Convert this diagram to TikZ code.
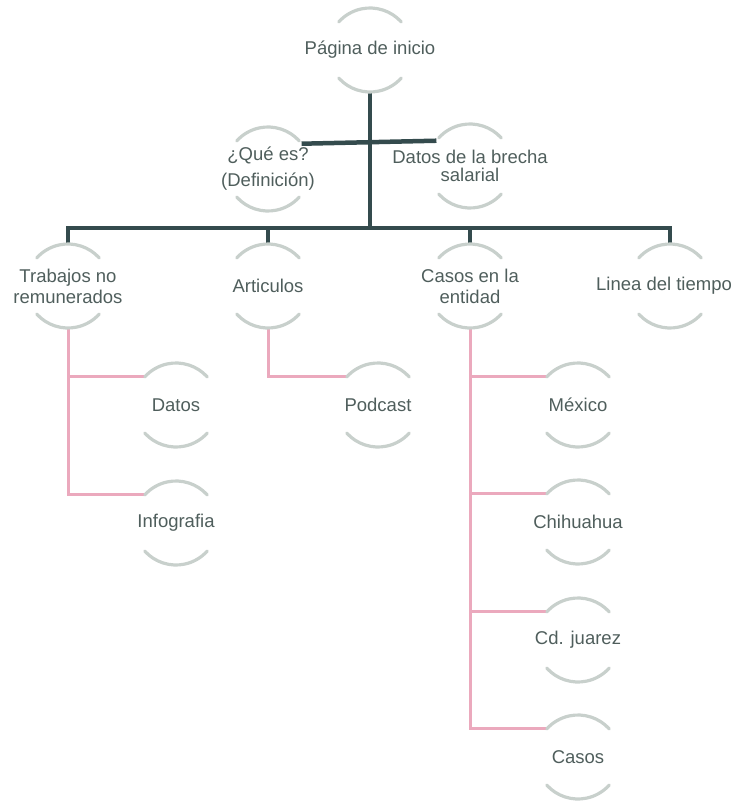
\documentclass[tikz,border=0pt]{standalone}
\usepackage{fontspec}
\setmainfont{Liberation Sans}
\definecolor{txt}{HTML}{4F5E5C}
\definecolor{arcc}{HTML}{C8D0CC}
\definecolor{dark}{HTML}{344B4D}
\definecolor{pinkc}{HTML}{EBA9BD}
\newcommand\nodearcs[1]{%
  \draw[arcline] ([shift={(42:42)}]#1) arc (42:138:42);
  \draw[arcline] ([shift={(222:42)}]#1) arc (222:318:42);}
\begin{document}
\begin{tikzpicture}[x=1pt,y=1pt,
  lbl/.style={text=txt, font=\fontsize{18.5}{21}\selectfont, align=center, inner sep=0pt},
  arcline/.style={draw=arcc, line width=3.2pt, line cap=round},
  mainline/.style={draw=dark, line width=4.5pt},
  subline/.style={draw=pinkc, line width=3pt}]
\useasboundingbox (0,0) rectangle (743,-805);

% nodes
\node[lbl] (p) at (370,-50) {Página de inicio};
\node[lbl, font=\fontsize{18.5}{26}\selectfont] (q) at (268,-169) {¿Qué es?\\(Definición)};
\node[lbl, font=\fontsize{18.5}{18}\selectfont] (d) at (470,-166) {Datos de la brecha\\salarial};
\node[lbl] (tr) at (68,-286) {Trabajos no\\remunerados};
\node[lbl] (ar) at (268,-286) {Articulos};
\node[lbl] (ca) at (470,-286) {Casos en la\\entidad};
\node[lbl] (li) at (664,-286) {Linea del tiempo};
\coordinate (lic) at (670,-286);
\node[lbl] (da) at (176,-405) {Datos};
\node[lbl] (inf) at (176,-523) {Infografia};
\node[lbl] (po) at (378,-405) {Podcast};
\node[lbl] (me) at (578,-405) {México};
\node[lbl] (ch) at (578,-522) {Chihuahua};
\node[lbl] (cd) at (578,-640) {Cd. juarez};
\node[lbl] (cs) at (578,-757) {Casos};

% main connectors
\coordinate (j) at (370,-228);
\draw[mainline] ([yshift=-42pt]p.center) -- (j);
\draw[mainline] ([shift={(37:42)}]q.center) -- ([shift={(143:42)}]d.center);
\draw[mainline] ([yshift=42pt]tr.center) |- (j) -| ([yshift=42pt]lic);
\draw[mainline] ([yshift=42pt]ar.center) -- (ar.center |- j);
\draw[mainline] ([yshift=42pt]ca.center) -- (ca.center |- j);

% sub connectors
\draw[subline] ([yshift=-42pt]tr.center) |- ([shift={(138:42)}]inf.center);
\draw[subline] ([yshift=-42pt]tr.center) |- ([shift={(138:42)}]da.center);
\draw[subline] ([yshift=-42pt]ar.center) |- ([shift={(138:42)}]po.center);
\draw[subline] ([yshift=-42pt]ca.center) |- ([shift={(138:42)}]cs.center);
\draw[subline] ([yshift=-42pt]ca.center) |- ([shift={(138:42)}]cd.center);
\draw[subline] ([yshift=-42pt]ca.center) |- ([shift={(138:42)}]ch.center);
\draw[subline] ([yshift=-42pt]ca.center) |- ([shift={(138:42)}]me.center);

% arcs
\nodearcs{p.center}
\nodearcs{q.center}
\nodearcs{d.center}
\nodearcs{tr.center}
\nodearcs{ar.center}
\nodearcs{ca.center}
\nodearcs{lic}
\nodearcs{da.center}
\nodearcs{inf.center}
\nodearcs{po.center}
\nodearcs{me.center}
\nodearcs{ch.center}
\nodearcs{cd.center}
\nodearcs{cs.center}
\end{tikzpicture}
\end{document}
